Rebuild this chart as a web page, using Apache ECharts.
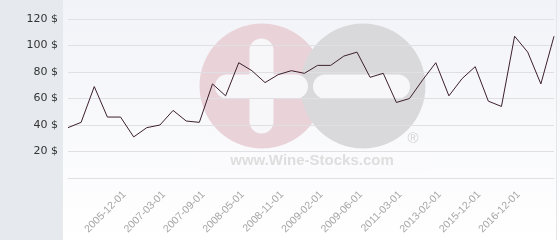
<!DOCTYPE html>
<html>
<head>
<meta charset="utf-8">
<script src="https://cdn.jsdelivr.net/npm/echarts@6/dist/echarts.min.js"></script>
<style>html,body{margin:0;padding:0;background:#fff}#c{width:560px;height:240px}</style>
</head>
<body>
<div id="c"></div>
<script>
// Categories (only every third date is labelled in the reference; unlabelled dates unknown)
const categories = ['', '', '', '', '2005-12-01', '', '', '2007-03-01', '', '', '2007-09-01', '', '',
  '2008-05-01', '', '', '2008-11-01', '', '', '2009-02-01', '', '', '2009-06-01', '', '',
  '2011-03-01', '', '', '2013-02-01', '', '', '2015-12-01', '', '', '2016-12-01', '', '', ''];
const prices = [38, 42, 69, 46, 46, 31, 38, 40, 51, 43, 42, 71, 62, 87, 81, 72, 78, 81, 79, 85,
  85, 92, 95, 76, 79, 57, 60, 74, 87, 62, 75, 84, 58, 54, 107, 95, 71, 107];
const yTicks = [0, 20, 40, 60, 80, 100, 120];

const chart = echarts.init(document.getElementById('c'), null, {renderer: 'canvas'});
chart.setOption({
  animation: false,
  backgroundColor: '#ffffff',
  graphic: [
    {type: 'rect', z: -30, silent: true, shape: {x: 63, y: 0, width: 497, height: 240},
     style: {fill: new echarts.graphic.LinearGradient(0, 0, 0, 1, [{offset: 0, color: '#f2f3f8'}, {offset: 1, color: '#ffffff'}])}},
    {type: 'rect', z: -29, silent: true, shape: {x: 0, y: 0, width: 63, height: 240}, style: {fill: '#e6eaee'}},
    {type: 'line', z: -29, silent: true, shape: {x1: 556.5, y1: 0, x2: 556.5, y2: 240}, style: {stroke: '#e4e6ea', lineWidth: 1}},
    // watermark
    {type: 'rect', z: -25, silent: true, shape: {x: 197, y: 150, width: 232, height: 22}, style: {fill: '#fbfbfd'}},
    {type: 'circle', z: -24, silent: true, shape: {cx: 262, cy: 86, r: 62.5}, style: {fill: '#e9d3d9'}},
    {type: 'circle', z: -23, silent: true, shape: {cx: 363, cy: 86, r: 62.5}, style: {fill: '#d9d9db'}},
    {type: 'rect', z: -22, silent: true, shape: {x: 249.5, y: 38.5, width: 24, height: 95, r: 12}, style: {fill: '#f7f7fa'}},
    {type: 'rect', z: -22, silent: true, shape: {x: 215, y: 74.5, width: 93, height: 24, r: 12}, style: {fill: '#f7f7fa'}},
    {type: 'rect', z: -22, silent: true, shape: {x: 313, y: 74.5, width: 97, height: 24, r: 12}, style: {fill: '#f7f7fa'}},
    {type: 'text', z: -21, silent: true, x: 312, y: 161,
     style: {text: 'www.Wine-Stocks.com', font: 'bold 15px "Liberation Sans", Arial, sans-serif', fill: '#dedede', align: 'center', verticalAlign: 'middle'}},
    {type: 'text', z: -21, silent: true, x: 413, y: 139,
     style: {text: '®', font: '15px "Liberation Sans", Arial, sans-serif', fill: '#d4d4d6', align: 'center', verticalAlign: 'middle'}}
  ],
  grid: {left: 68, right: 6, top: 19, bottom: 62, containLabel: false},
  xAxis: {
    type: 'category',
    data: categories,
    boundaryGap: false,
    axisLine: {show: true, lineStyle: {color: '#e0e0e4'}},
    axisTick: {show: false},
    axisLabel: {interval: 0, rotate: 45, margin: 11, verticalAlign: 'top', color: '#a6a6a6', fontSize: 10.5,
      fontFamily: '"Liberation Sans", Arial, sans-serif'},
    splitLine: {show: false}
  },
  yAxis: {
    type: 'value',
    min: yTicks[0], max: yTicks[yTicks.length - 1], interval: 20,
    axisLine: {show: false},
    axisTick: {show: false},
    axisLabel: {margin: 10, color: '#333', fontSize: 11, fontFamily: '"DejaVu Sans", sans-serif',
      formatter: v => v === 0 ? '' : v + ' $'},
    splitLine: {show: true, lineStyle: {color: '#e0e0e4', width: 1}}
  },
  series: [{
    type: 'line',
    data: prices,
    symbol: 'none',
    lineStyle: {color: '#3c1f2d', width: 1},
    z: 5
  }]
});
</script>
</body>
</html>
